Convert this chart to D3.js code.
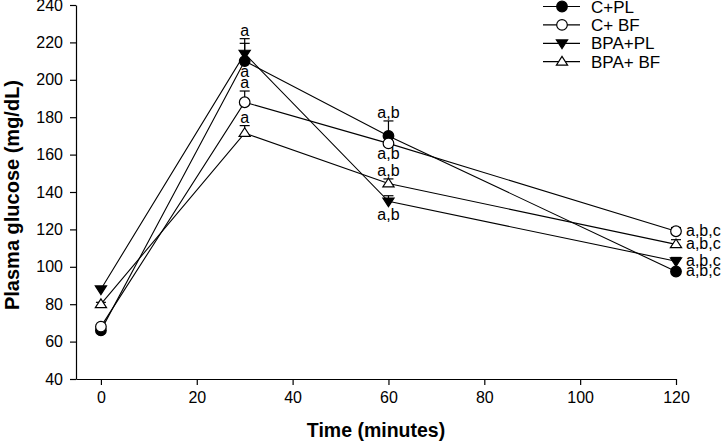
<!DOCTYPE html>
<html>
<head>
<meta charset="utf-8">
<script src="https://cdn.jsdelivr.net/npm/d3@7"></script>
<style>
  body { margin: 0; background: #fff; }
  text { font-family: "Liberation Sans", Arial, sans-serif; }
</style>
</head>
<body>
<div id="container"></div>
<script>
/* DATA */
const times = [0, 30, 60, 120]
const seriesNames = ["C+PL", "C+ BF", "BPA+PL", "BPA+ BF"]

const cpl = [66, 210, 170, 97.5]
const cplErr = [1, 9.5, 8, 1]
const cbf = [68, 188, 166, 119]
const cbfErr = [1, 6, 1, 2]
const bpapl = [88, 214, 135, 103]
const bpaplErr = [1, 8, 3, 2]
const bpabf = [80, 171.5, 144.5, 112]
const bpabfErr = [1, 4, 2.5, 2.5]

// significance letters per point (t = 0, 30, 60, 120)
const cplLbl = ["", "a", "a,b", "a,b,c"]
const cbfLbl = ["", "a", "a,b", "a,b,c"]
const bpaplLbl = ["", "a", "a,b", "a,b,c"]
const bpabfLbl = ["", "a", "a,b", "a,b,c"]

const yTicks = [40, 60, 80, 100, 120, 140, 160, 180, 200, 220, 240]
const xTicks = [0, 20, 40, 60, 80, 100, 120]

/* CONSTANTS */
const width = 722, height = 441

const series = [
  { name: seriesNames[0], vals: cpl, err: cplErr, lbl: cplLbl, sym: "circle", fill: "#000", place: ["", "down", "up", "right"] },
  { name: seriesNames[1], vals: cbf, err: cbfErr, lbl: cbfLbl, sym: "circle", fill: "#fff", place: ["", "up", "down", "right"] },
  { name: seriesNames[2], vals: bpapl, err: bpaplErr, lbl: bpaplLbl, sym: "tridown", fill: "#000", place: ["", "up", "down", "right"] },
  { name: seriesNames[3], vals: bpabf, err: bpabfErr, lbl: bpabfLbl, sym: "triup", fill: "#fff", place: ["", "up", "up", "right"] }
]

/* SCALES */
const xScale = d3.scaleLinear().domain([-5.2, 120]).range([76, 676])
const yScale = d3.scaleLinear().domain([40, 240]).range([379, 5])

const svg = d3.select("#container")
  .append("svg")
  .attr("width", width)
  .attr("height", height)

// axes
svg.append("g")
  .attr("transform", "translate(76,0)")
  .call(d3.axisLeft(yScale).tickValues(yTicks).tickSize(6).tickSizeOuter(0).tickPadding(7))
svg.append("g")
  .attr("transform", "translate(0,379)")
  .call(d3.axisBottom(xScale).tickValues(xTicks).tickSize(6).tickSizeOuter(0).tickPadding(7))

svg.selectAll(".domain, .tick line").attr("stroke", "#000").attr("stroke-width", 1.2)
svg.selectAll(".tick text").attr("font-size", 16).attr("fill", "#000")
  .style("font-family", "'Liberation Sans', Arial, sans-serif")

// axis titles
svg.append("text")
  .attr("transform", "translate(19,195) rotate(-90)")
  .attr("text-anchor", "middle")
  .attr("font-size", 20).attr("font-weight", "bold")
  .text("Plasma glucose (mg/dL)")
svg.append("text")
  .attr("x", 376).attr("y", 437)
  .attr("text-anchor", "middle")
  .attr("font-size", 19.5).attr("font-weight", "bold")
  .text("Time (minutes)")

// marker drawing
function drawMarker(g, sym, fill, x, y) {
  if (sym === "circle") {
    g.append("circle").attr("cx", x).attr("cy", y).attr("r", 5.3)
      .attr("fill", fill).attr("stroke", "#000").attr("stroke-width", 1.2)
  } else {
    const s = 5.6
    const pts = sym === "tridown"
      ? [[x - s, y - s * 0.6], [x + s, y - s * 0.6], [x, y + s * 0.95]]
      : [[x - s, y + s * 0.6], [x + s, y + s * 0.6], [x, y - s * 0.95]]
    g.append("polygon").attr("points", pts.map(p => p.join(",")).join(" "))
      .attr("fill", fill).attr("stroke", "#000").attr("stroke-width", 1.2)
  }
}

const line = d3.line().x((d, i) => xScale(times[i])).y(d => yScale(d))

series.forEach(s => {
  const g = svg.append("g")
  // line
  g.append("path").datum(s.vals).attr("d", line)
    .attr("fill", "none").attr("stroke", "#000").attr("stroke-width", 1.1)
  // error bars (upper only)
  s.vals.forEach((v, i) => {
    const x = xScale(times[i]), y0 = yScale(v), y1 = yScale(v + s.err[i])
    g.append("line").attr("x1", x).attr("x2", x).attr("y1", y0).attr("y2", y1)
      .attr("stroke", "#000").attr("stroke-width", 1.2)
    g.append("line").attr("x1", x - 5).attr("x2", x + 5).attr("y1", y1).attr("y2", y1)
      .attr("stroke", "#000").attr("stroke-width", 1.2)
  })
  // markers
  s.vals.forEach((v, i) => drawMarker(g, s.sym, s.fill, xScale(times[i]), yScale(v)))
  // letters
  s.vals.forEach((v, i) => {
    if (!s.lbl[i]) return
    const x = xScale(times[i])
    const t = g.append("text").attr("font-size", 16).text(s.lbl[i])
    if (s.place[i] === "up") {
      t.attr("x", x).attr("y", yScale(v + s.err[i]) - 3).attr("text-anchor", "middle")
    } else if (s.place[i] === "down") {
      t.attr("x", x).attr("y", yScale(v) + (s.sym === "tridown" ? 19 : 16)).attr("text-anchor", "middle")
    } else {
      t.attr("x", x + 10).attr("y", yScale(v) + 4.5).attr("text-anchor", "start")
    }
  })
})

// legend
const legend = svg.append("g")
series.forEach((s, i) => {
  const y = 6.5 + i * 18.4
  legend.append("line").attr("x1", 543).attr("x2", 580).attr("y1", y).attr("y2", y)
    .attr("stroke", "#000").attr("stroke-width", 1.2)
  drawMarker(legend, s.sym, s.fill, 562, y)
  legend.append("text").attr("x", 591).attr("y", y + 6).attr("font-size", 17).text(s.name)
})
</script>
</body>
</html>
